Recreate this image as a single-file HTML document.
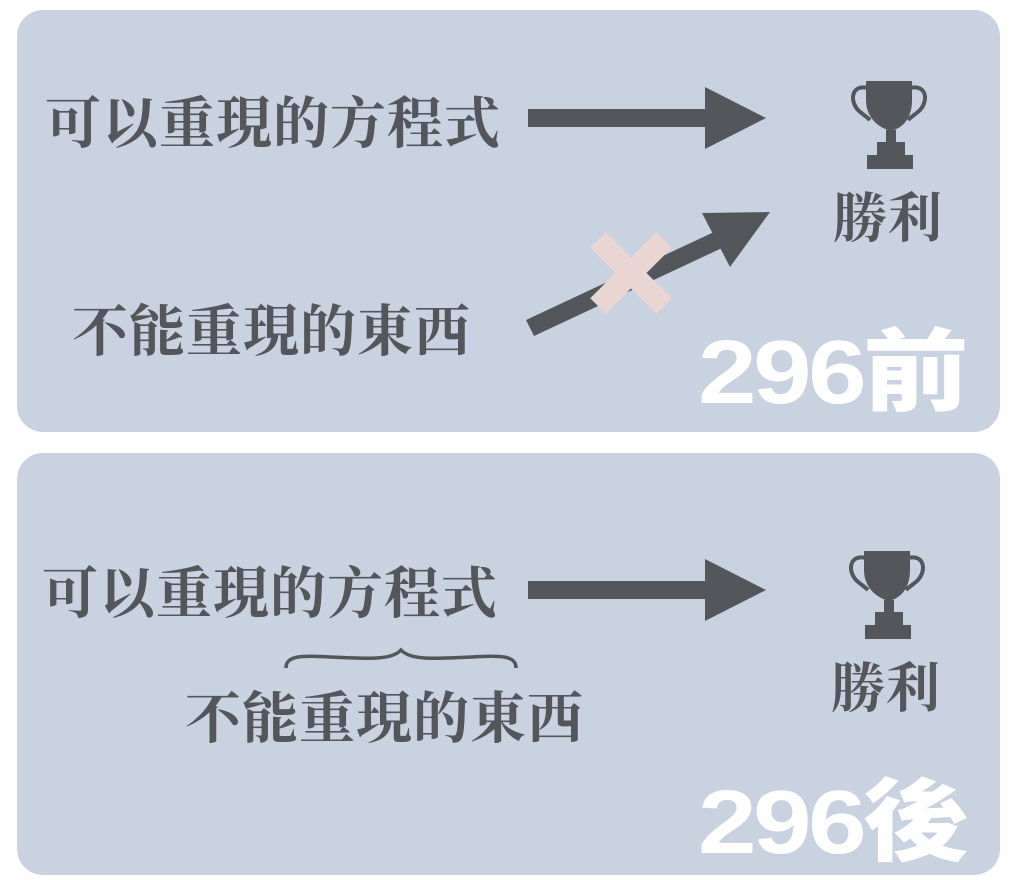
<!DOCTYPE html>
<html><head><meta charset="utf-8"><style>
html,body{margin:0;padding:0;background:#fff;}
body{width:1024px;height:880px;position:relative;overflow:hidden;}
.p{position:absolute;left:17px;width:983px;height:422px;background:#c9d2e0;border-radius:26px;}
.t{position:absolute;font-family:"Liberation Serif","Noto Serif CJK SC",serif;font-weight:bold;color:#53575c;font-size:56px;line-height:1;white-space:nowrap;letter-spacing:1px;}
.big{position:absolute;font-family:"Liberation Sans","Noto Sans CJK SC",sans-serif;font-weight:900;color:#fff;font-size:90px;line-height:1;white-space:nowrap;letter-spacing:-3px;transform:scaleX(1.17);transform-origin:left top;}
svg{position:absolute;left:0;top:0;}
</style></head><body>
<div class="p" style="top:10px"></div>
<div class="p" style="top:453px"></div>

<div class="t" style="left:45px;top:97px">可以重現的方程式</div>
<div class="t" style="left:72px;top:305px">不能重現的東西</div>
<div class="t" style="left:833px;top:192px;font-size:54px">勝利</div>

<div class="t" style="left:42px;top:567px">可以重現的方程式</div>
<div class="t" style="left:185px;top:692px">不能重現的東西</div>
<div class="t" style="left:831px;top:662px;font-size:54px">勝利</div>

<div class="big" style="left:698px;top:328px">296前</div>
<div class="big" style="left:698px;top:778px">296後</div>

<svg width="1024" height="880">
<g fill="#53575c">
<rect x="528" y="109" width="180" height="18"/>
<polygon points="705,87 766,118 705,149"/>
<rect x="528" y="581" width="180" height="18"/>
<polygon points="705,559 766,590 705,621"/>
</g>
<g fill="#53575c">
<polygon points="526,320 714,232 722,248 534,336"/>
<polygon points="702,213 770,212 730,267"/>
</g>
<g stroke="#ead5d3" stroke-width="22" stroke-linecap="butt">
<line x1="598" y1="240" x2="664" y2="306"/>
<line x1="664" y1="240" x2="598" y2="306"/>
</g>
<g id="tr" fill="#53575c">
<path d="M866,81 H912 V100 C912,118 903,128 891,131 C879,128 866,118 866,100 Z"/>
<path d="M868,88 C852,84 849,100 858,110 C862,114 866,116 870,120" fill="none" stroke="#53575c" stroke-width="4"/>
<path d="M910,88 C926,84 929,100 920,110 C916,114 912,116 908,120" fill="none" stroke="#53575c" stroke-width="4"/>
<rect x="886" y="130" width="10" height="14"/>
<rect x="877" y="142" width="28" height="14"/>
<rect x="867" y="155" width="46" height="14"/>
</g>
<use href="#tr" x="-2" y="470"/>
<path d="M286,668 C286,656 300,655 330,657 C370,659 392,660 401,650 C410,660 432,659 472,657 C502,655 516,656 516,668" fill="none" stroke="#53575c" stroke-width="3.5"/>
</svg>
</body></html>
